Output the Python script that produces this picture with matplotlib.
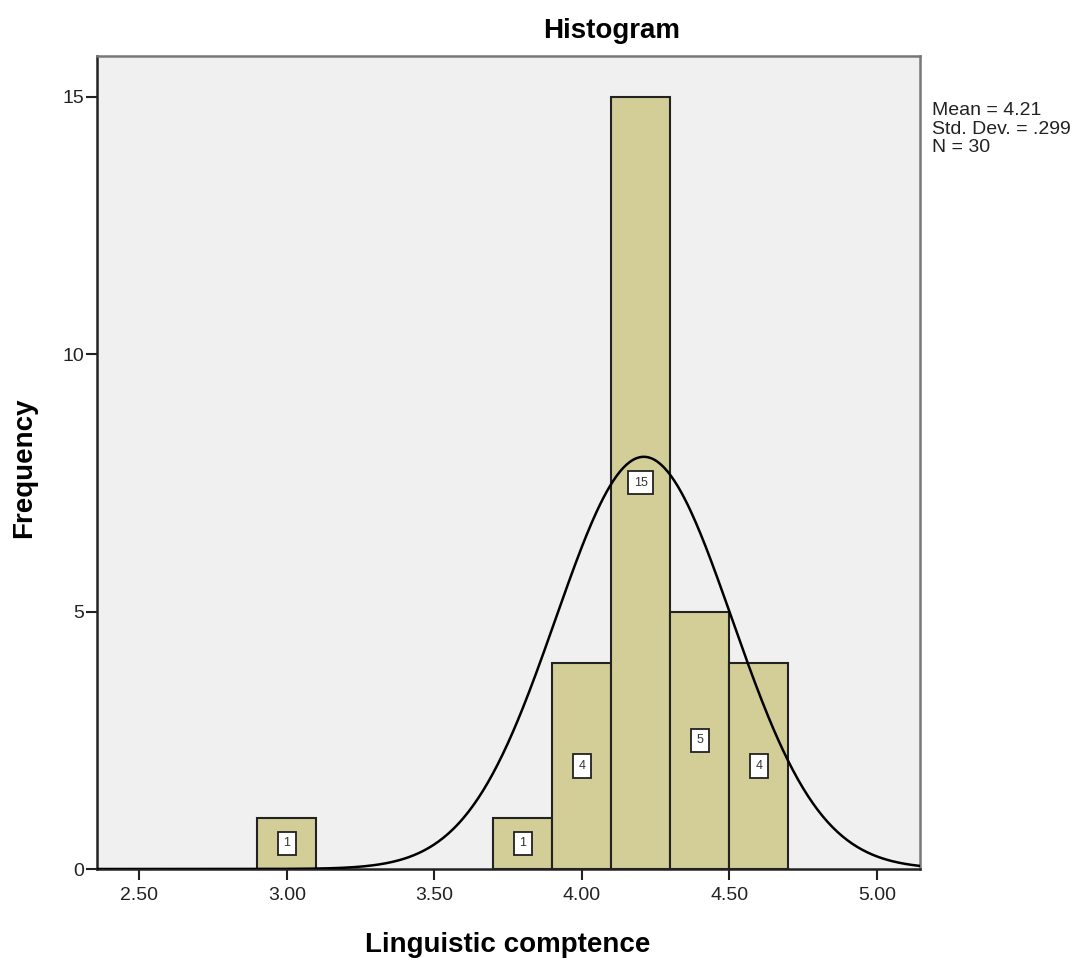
import numpy as np
import matplotlib.pyplot as plt

plt.rcParams['font.family'] = ['Liberation Sans', 'DejaVu Sans']

bin_left = [2.9, 3.7, 3.9, 4.1, 4.3, 4.5]
counts = [1, 1, 4, 15, 5, 4]
bin_width = 0.2
mean = 4.21
std = 0.299
n = 30
xticks = [2.5, 3.0, 3.5, 4.0, 4.5, 5.0]
yticks = [0, 5, 10, 15]

fig = plt.figure(figsize=(10.89, 9.58), dpi=100)
ax = fig.add_axes([97 / 1089, 1 - 869 / 958, (920 - 97) / 1089, (869 - 56) / 958])
ax.set_facecolor('#F0F0F0')

ax.bar(bin_left, counts, width=bin_width, align='edge', color='#D3CE97',
       edgecolor='#222222', linewidth=1.5, zorder=2)

# rótulos com a contagem no meio da barra
for xl, c in zip(bin_left, counts):
    ax.text(xl + bin_width / 2, c / 2, str(c), ha='center', va='center', fontsize=9,
            color='#333333', zorder=4,
            bbox=dict(boxstyle='square,pad=0.45', facecolor='white',
                      edgecolor='#222222', linewidth=1.3))

# curva normal ajustada
xs = np.linspace(2.357, 5.146, 500)
ys = n * bin_width / (std * np.sqrt(2 * np.pi)) * np.exp(-0.5 * ((xs - mean) / std) ** 2)
ax.plot(xs, ys, color='black', linewidth=1.8, zorder=3)

ax.set_xlim(2.357, 5.146)
ax.set_ylim(0, 15.79)
ax.set_xticks(xticks)
ax.set_xticklabels([f'{t:.2f}' for t in xticks])
ax.set_yticks(yticks)
ax.tick_params(axis='both', labelsize=14, length=8, width=1.5, color='#222222',
               labelcolor='#222222', pad=1)
ax.tick_params(axis='x', pad=5)

for side in ['left', 'bottom']:
    ax.spines[side].set_color('#222222')
    ax.spines[side].set_linewidth(1.8)
for side in ['top', 'right']:
    ax.spines[side].set_color('#777777')
    ax.spines[side].set_linewidth(1.8)

fig.text(612 / 1089, 1 - 38 / 958, 'Histogram', ha='center', va='baseline',
         fontsize=20, fontweight='bold')
fig.text(508 / 1089, 1 - 952 / 958, 'Linguistic comptence', ha='center', va='baseline',
         fontsize=20, fontweight='bold')
fig.text(24.5 / 1089, 1 - 468 / 958, 'Frequency', ha='center', va='center',
         rotation=90, fontsize=20, fontweight='bold')

fig.text(932 / 1089, 1 - 102 / 958,
         f'Mean = {mean:.2f}\nStd. Dev. = {str(round(std, 3))[1:]}\nN = {n}',
         ha='left', va='top', fontsize=14, linespacing=1.12, color='#222222')

fig.savefig('out.png', dpi=100)
